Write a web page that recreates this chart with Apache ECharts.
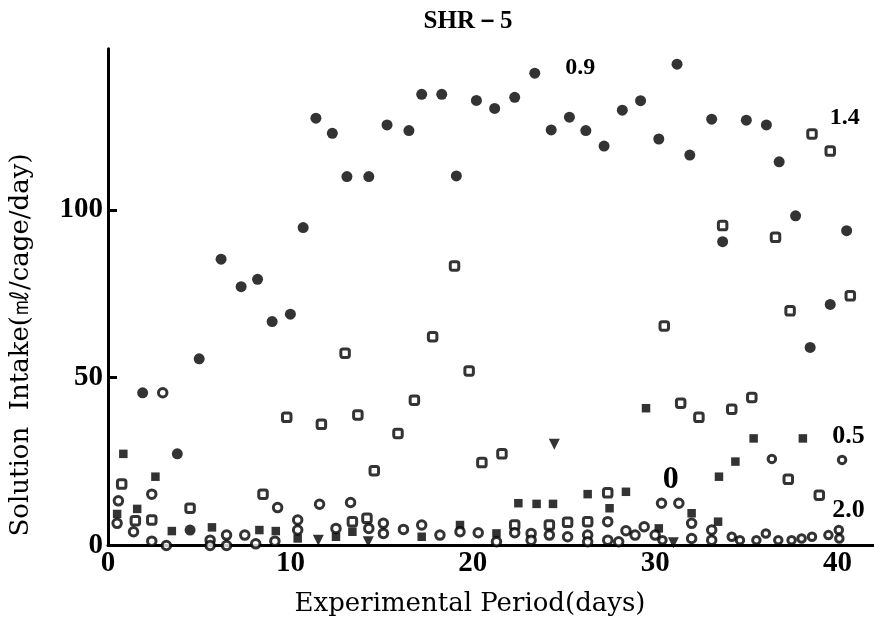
<!DOCTYPE html>
<html>
<head>
<meta charset="utf-8">
<script src="https://cdn.jsdelivr.net/npm/echarts@6/dist/echarts.min.js"></script>
<style>
html,body{margin:0;padding:0;background:#fff;}
#c{width:874px;height:623px;}
</style>
</head>
<body>
<div id="c"></div>
<script>
// ---- data (day, intake ml/cage/day) ----
const xTicks = [0, 10, 20, 30, 40];
const yTicks = [0, 50, 100];

// filled circles (0.9)
const s09 = [[1.9,45.5],[3.8,27.3],[4.5,4.6],[5.0,55.6],[6.2,85.3],[7.3,77.1],[8.2,79.3],[9.0,66.7],[10.0,68.9],[10.7,94.7],
  [11.4,127.3],[12.3,122.8],[13.1,109.9],[14.3,109.9],[15.3,125.3],[16.5,123.6],[17.2,134.4],[18.3,134.4],[19.1,110.1],
  [20.2,132.6],[21.2,130.2],[22.3,133.5],[23.4,140.7],[24.3,123.8],[25.3,127.6],[26.2,123.6],[27.2,119.0],[28.2,129.7],
  [29.2,132.5],[30.2,121.1],[31.2,143.4],[31.9,116.3],[33.1,127.0],[33.7,90.5],[35.0,126.7],[36.1,125.3],[36.8,114.3],
  [37.7,98.2],[38.5,59.0],[39.6,71.8],[40.5,93.8]];

// open squares (1.4)
const s14 = [[0.75,18.3],[1.5,7.4],[2.4,7.6],[4.5,11.1],[8.5,15.3],[9.8,38.2],[11.7,36.1],[13.0,57.3],[13.4,7.1],[13.7,38.9],
  [14.2,8.1],[14.6,22.3],[15.9,33.4],[16.8,43.3],[17.8,62.2],[19.0,83.3],[19.8,52.0],[20.5,24.7],[21.6,27.3],[22.3,6.1],
  [24.2,6.1],[25.2,6.9],[26.3,7.1],[27.4,15.7],[30.5,65.4],[31.4,42.4],[32.4,38.2],[33.7,95.3],[34.2,40.6],[35.3,44.1],
  [36.6,91.8],[37.3,19.7],[37.4,69.9],[38.6,122.6],[39.0,15.0],[39.6,117.5],[40.7,74.4]];

// filled squares (0.5)
const s05 = [[0.84,27.3],[0.5,9.4],[1.6,10.9],[2.6,20.5],[3.5,4.3],[5.7,5.4],[8.3,4.6],[9.2,4.3],[10.4,2.1],[12.5,2.6],
  [13.4,4.1],[17.2,2.6],[19.3,6.1],[21.3,3.6],[22.5,12.6],[23.5,12.4],[24.4,12.4],[26.3,15.3],[27.5,11.1],[28.4,16.0],
  [29.5,40.9],[30.2,5.1],[32.0,9.6],[33.45,7.1],[33.5,20.5],[34.4,25.0],[35.4,31.9],[38.1,31.9]];

// open circles (0)
const s00 = [[0.57,13.3],[0.5,6.6],[1.4,4.1],[2.4,15.3],[3.0,45.5],[2.4,1.3],[3.2,0],[5.6,1.6],[5.6,0],[6.5,3.1],[6.5,0],
  [7.5,3.1],[8.1,0.5],[9.15,1.3],[9.3,11.3],[10.4,7.6],[10.4,4.6],[11.6,12.3],[12.5,5.1],[13.3,12.8],[14.3,5.1],[15.1,6.6],
  [15.1,3.6],[16.2,4.8],[17.2,6.1],[18.2,3.1],[19.3,4.1],[20.3,3.8],[21.3,1.1],[22.3,3.8],[23.2,3.6],[23.2,1.6],[24.2,3.1],
  [25.2,2.6],[26.3,3.1],[26.3,1.1],[27.4,7.1],[27.4,1.6],[28.0,1.1],[28.4,4.4],[28.9,3.1],[29.4,5.6],[30.0,3.1],
  [30.35,12.6],[31.3,12.6],[32.0,6.6],[32.0,2.1],[33.1,4.6],[33.1,1.6]];

// small open circles (2.0)
const s20 = [[30.4,1.6],[34.2,2.6],[34.65,1.6],[35.55,1.6],[36.07,3.6],[36.4,25.8],[36.75,1.6],[37.48,1.6],[38.03,2.1],
  [38.6,2.6],[39.5,3.1],[40.07,4.6],[40.1,2.1],[40.25,25.5]];

// filled down-triangles
const sTri = [[24.47,30.2],[11.53,1.6],[14.27,1.1],[31.0,0.8]];

// curve annotations
const noteText = ['0.9', '1.4', '0.5', '0', '2.0'];
const noteX = [25.9, 40.4, 40.6, 30.85, 40.6];
const noteY = [142.4, 127.3, 32.6, 19.5, 10.6];
const noteSize = [24, 24, 26, 32, 26];

const titleText = 'SHR－5';
const xName = 'Experimental Period(days)';
const yName = 'Solution  Intake(㎖/cage/day)';

const serif = '"Liberation Serif","DejaVu Serif",serif';
const dserif = '"DejaVu Serif","Liberation Serif",serif';

const chart = echarts.init(document.getElementById('c'), null, {renderer: 'canvas'});

const filled = {color: '#000'};
const open = {color: '#fff', borderColor: '#000', borderWidth: 3};

chart.setOption({
  animation: false,
  backgroundColor: '#fff',
  title: {
    text: titleText, left: 463, top: 4, textAlign: 'center',
    textStyle: {fontFamily: serif, fontSize: 25, fontWeight: 'bold', color: '#000'}
  },
  grid: {left: 108, right: 0, top: 48.7, bottom: 77.5, containLabel: false, outerBoundsMode: 'none'},
  xAxis: {
    type: 'value', min: 0, max: 42,
    axisLine: {show: true, onZero: false, lineStyle: {color: '#000', width: 3}},
    axisTick: {show: false},
    splitLine: {show: false},
    axisLabel: {customValues: xTicks, color: '#000', fontFamily: serif, fontWeight: 'bold', fontSize: 29, margin: 4}
  },
  yAxis: {
    type: 'value', min: 0, max: 148,
    axisLine: {show: true, onZero: false, lineStyle: {color: '#000', width: 3}},
    axisTick: {show: true, inside: true, length: 9, customValues: yTicks, lineStyle: {color: '#000', width: 3}},
    splitLine: {show: false},
    axisLabel: {customValues: yTicks, color: '#000', fontFamily: serif, fontWeight: 'bold', fontSize: 29, margin: 5}
  },
  series: [
    {type: 'scatter', name: '0.9', data: s09, symbol: 'circle', symbolSize: 11, itemStyle: filled, clip: false},
    {type: 'scatter', name: '1.4', data: s14, symbol: 'roundRect', symbolSize: 8.5, itemStyle: open, clip: false},
    {type: 'scatter', name: '0.5', data: s05, symbol: 'rect', symbolSize: 8.5, itemStyle: filled, clip: false},
    {type: 'scatter', name: '0', data: s00, symbol: 'circle', symbolSize: 8.5, itemStyle: open, clip: false},
    {type: 'scatter', name: '2.0', data: s20, symbol: 'circle', symbolSize: 7.5, itemStyle: open, clip: false},
    {type: 'scatter', name: 'tri', data: sTri, symbol: 'triangle', symbolRotate: 180, symbolSize: 11, itemStyle: filled, clip: false}
  ]
});

// axis titles and curve annotations as text elements
const graphics = [
  {type: 'text', x: 470, y: 604, style: {text: xName, fill: '#000', font: '26px ' + dserif, align: 'center', verticalAlign: 'middle'}},
  {type: 'text', x: 21, y: 345, rotation: Math.PI / 2, style: {text: yName, fill: '#000', font: '26px ' + dserif, align: 'center', verticalAlign: 'middle'}}
];
noteText.forEach((t, i) => {
  const p = chart.convertToPixel({gridIndex: 0}, [noteX[i], noteY[i]]);
  graphics.push({type: 'text', x: p[0], y: p[1],
    style: {text: t, fill: '#000', font: 'bold ' + noteSize[i] + 'px ' + serif, align: 'center', verticalAlign: 'middle'}});
});
chart.setOption({graphic: graphics});
</script>
</body>
</html>
